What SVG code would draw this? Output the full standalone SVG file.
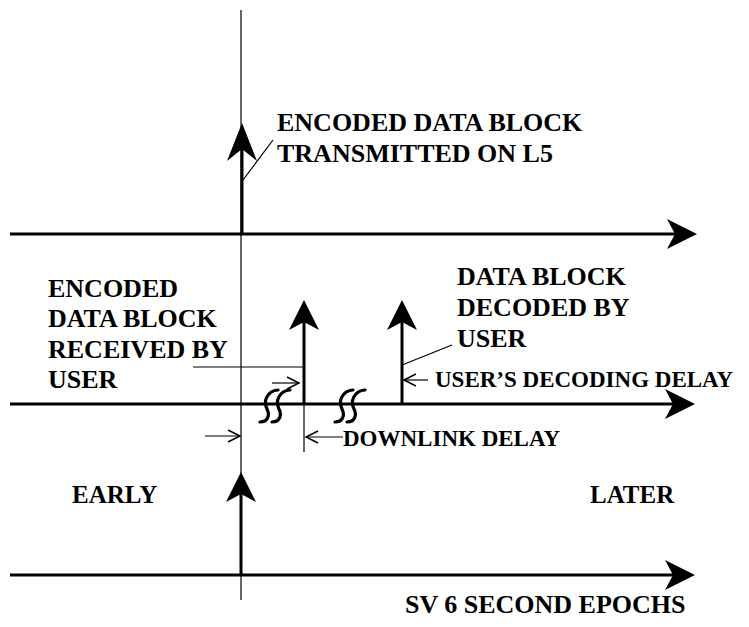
<svg xmlns="http://www.w3.org/2000/svg" width="749" height="627" viewBox="0 0 749 627">
<style>
text{font-family:"Liberation Serif","Times New Roman",serif;font-weight:bold;fill:#000}
.t26{font-size:26px}
.t23{font-size:23px}
.t25{font-size:25px}
.thick{stroke:#000;stroke-width:3;fill:none}
.thin{stroke:#000;stroke-width:1.2;fill:none}
.sq{stroke:#000;stroke-width:3.2;fill:none;stroke-linecap:round}
</style>
<defs>
<marker id="head" markerUnits="userSpaceOnUse" markerWidth="40" markerHeight="40" viewBox="-10 -20 40 40" refX="0" refY="0" orient="auto" overflow="visible">
<path d="M22,0 L-8,-15 L0,0 L-8,15 Z" fill="#000"/>
</marker>
<marker id="headL" markerUnits="userSpaceOnUse" markerWidth="50" markerHeight="40" viewBox="-20 -20 50 40" refX="0" refY="0" orient="auto" overflow="visible">
<path d="M26,0 L-12,-15 L0,0 L-12,15 Z" fill="#000"/>
</marker>
<marker id="open" markerUnits="userSpaceOnUse" markerWidth="20" markerHeight="20" viewBox="-15 -10 20 20" refX="0" refY="0" orient="auto" overflow="visible">
<path d="M-12,-6 L0,0 L-12,6" fill="none" stroke="#000" stroke-width="1.5"/>
</marker>
</defs>
<rect width="749" height="627" fill="#fff"/>
<g id="connectors">
<line class="thin" x1="241" y1="10" x2="241" y2="600"/>
<line class="thick" x1="10" y1="234" x2="675" y2="234" marker-end="url(#head)"/>
<line class="thick" x1="10" y1="404" x2="673" y2="404" marker-end="url(#head)"/>
<line class="thick" x1="10" y1="575" x2="673" y2="575" marker-end="url(#head)"/>
<line class="thick" x1="242" y1="234" x2="242" y2="149" marker-end="url(#headL)"/>
<line class="thick" x1="304" y1="404" x2="304" y2="322" marker-end="url(#head)"/>
<line class="thick" x1="402" y1="404" x2="402" y2="322" marker-end="url(#head)"/>
<line class="thick" x1="241" y1="575" x2="241" y2="494" marker-end="url(#head)"/>
<line class="thin" x1="304" y1="404" x2="304" y2="452"/>
<line class="thin" x1="243" y1="180" x2="273" y2="140"/>
<line class="thin" x1="193" y1="367" x2="304" y2="367"/>
<line class="thin" x1="402" y1="365" x2="452" y2="345"/>
<line class="thin" x1="272" y1="383" x2="299" y2="383" marker-end="url(#open)"/>
<line class="thin" x1="205" y1="436" x2="240" y2="436" marker-end="url(#open)"/>
<line class="thin" x1="343" y1="437" x2="306" y2="437" marker-end="url(#open)"/>
<line class="thin" x1="428" y1="380" x2="404" y2="380" marker-end="url(#open)"/>
<path class="sq" d="M260,422 C268,422 270,415 267,409 C263,401 267,391 278,390"/>
<path class="sq" d="M272,422 C280,422 282,415 279,409 C275,401 279,391 290,390"/>
<path class="sq" d="M335,422 C343,422 345,415 342,409 C338,401 342,391 353,390"/>
<path class="sq" d="M347,422 C355,422 357,415 354,409 C350,401 354,391 365,390"/>
</g>
<g id="label-transmitted">
<text class="t26" x="277" y="131">ENCODED DATA BLOCK</text>
<text class="t26" x="277" y="162">TRANSMITTED ON L5</text>
</g>
<g id="label-received">
<text class="t26" x="48" y="297">ENCODED</text>
<text class="t26" x="48" y="327">DATA BLOCK</text>
<text class="t26" x="48" y="358">RECEIVED BY</text>
<text class="t26" x="48" y="388">USER</text>
</g>
<g id="label-decoded">
<text class="t26" x="457" y="285">DATA BLOCK</text>
<text class="t26" x="457" y="316">DECODED BY</text>
<text class="t26" x="457" y="347">USER</text>
</g>
<g id="label-decoding-delay">
<text class="t23" x="435" y="387">USER’S DECODING DELAY</text>
</g>
<g id="label-downlink-delay">
<text class="t23" x="343" y="446">DOWNLINK DELAY</text>
</g>
<g id="label-early">
<text class="t25" x="72" y="503">EARLY</text>
</g>
<g id="label-later">
<text class="t25" x="590" y="503">LATER</text>
</g>
<g id="label-epochs">
<text class="t26" x="405" y="613">SV 6 SECOND EPOCHS</text>
</g>
</svg>
